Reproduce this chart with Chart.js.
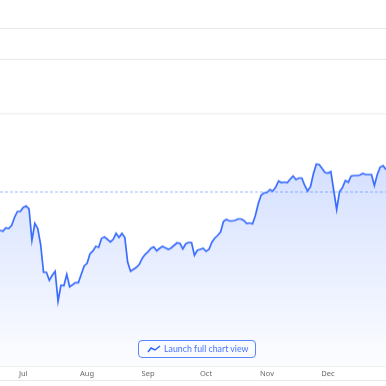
<!DOCTYPE html>
<html>
<head>
<meta charset="utf-8">
<script src="https://cdn.jsdelivr.net/npm/chart.js@4"></script>
<style>
  html, body { margin: 0; padding: 0; background: #fff; overflow: hidden; }
  #wrap { position: relative; width: 386px; height: 386px; }
  #chart_price { display: block; border-bottom: 1px solid #e9e9e9; }
  #launchButton {
    position: absolute; left: 138px; top: 340px; width: 116px; height: 16px;
    border: 1px solid #5b85ff; border-radius: 4px; background: #f9fbff;
    color: #4a74ff; font: 8.8px/16px Lato, sans-serif; white-space: nowrap;
  }
  #launchButton svg { position: absolute; left: 8px; top: 4px; }
  #launchButton span { position: absolute; left: 25px; top: 0; }
</style>
</head>
<body>
<div id="wrap">
  <canvas id="chart_price" width="386" height="381"></canvas>
  <div id="launchButton">
    <svg width="14" height="8" viewBox="0 0 14 8"><polyline points="1,7 4,3 8,5 13,1" fill="none" stroke="#2962ff" stroke-width="1.4"/></svg>
    <span>Launch full chart view</span>
  </div>
</div>
<script>
const priceValues = [
  136, 135.3, 138.5, 138, 141, 149, 155, 155, 159, 160.5, 157.5, 126, 143, 138, 122, 94,
  94, 86, 91, 95, 65, 81, 80.5, 92, 79.5, 81.5, 83.7, 83.7, 92, 100.3, 103, 112.5,
  115.3, 120, 119, 128, 129.5, 127, 124.3, 127, 133, 129, 133, 129, 104, 95,
  97, 99, 102, 108, 112, 114.5, 118, 119.5, 115.5, 118, 120, 118.5, 117, 118.5, 121, 123.5,
  123, 117.5, 122.5, 124, 123.7, 111, 116, 117, 118, 115, 117, 124, 128.3, 131, 134.5,
  145, 147, 145.5, 145.5, 146, 147.5, 147.5, 146, 143, 143.5, 142.5, 151, 163, 171.5, 173.5,
  174, 177, 175.5, 179.5, 185.5, 184, 184.5, 184, 187.5, 190.5, 187, 188.5, 188.5, 181, 175.5,
  180, 193, 202.5, 202, 198, 194, 193.5, 195, 176, 157, 175, 179, 186, 184.3, 190.5,
  191, 191, 191.5, 193, 192, 192, 192, 181, 192, 199.5, 201, 197
];
const monthLabels = ["Jul", "Aug", "Sep", "Oct", "Nov", "Dec"];
const monthStarts = [8, 30, 51, 71, 92, 113];
const gridValues = [339, 307, 253];
const baseValue = 174.5;

const categories = priceValues.map(function (v, i) {
  const m = monthStarts.indexOf(i);
  return m >= 0 ? monthLabels[m] : "";
});
const baseValues = priceValues.map(function () { return baseValue; });

new Chart(document.getElementById("chart_price"), {
  type: "line",
  data: {
    labels: categories,
    datasets: [
      {
        data: priceValues,
        borderColor: "#3a6dff",
        borderWidth: 1.7,
        pointRadius: 0,
        tension: 0,
        fill: "origin",
        backgroundColor: function (context) {
          const area = context.chart.chartArea;
          if (!area) return "rgba(41,98,255,0.2)";
          const g = context.chart.ctx.createLinearGradient(0, 160, 0, area.bottom);
          g.addColorStop(0, "rgba(41,98,255,0.2)");
          g.addColorStop(1, "rgba(41,98,255,0.01)");
          return g;
        },
      },
      {
        data: baseValues,
        borderColor: "rgba(41,98,255,0.45)",
        borderWidth: 1,
        borderDash: [3, 2],
        pointRadius: 0,
        fill: false,
      },
    ],
  },
  options: {
    responsive: false,
    animation: false,
    layout: { padding: 0 },
    plugins: {
      legend: false,
      tooltip: { enabled: false },
    },
    scales: {
      y: {
        min: 0,
        max: 367,
        border: { display: false },
        ticks: { display: false },
        afterBuildTicks: function (scale) {
          scale.ticks = gridValues.map(function (v) { return { value: v }; });
        },
        afterFit: function (scale) { scale.width = 0; },
        grid: {
          drawTicks: false,
          color: function (context) {
            return context.index === 2 ? "#f4f4f4" : "#e6e6e6";
          },
          lineWidth: function (context) {
            return context.index === 2 ? 2 : 1;
          },
        },
      },
      x: {
        border: { display: true, color: "#eeeeee" },
        grid: { display: false, drawTicks: false },
        afterFit: function (scale) {
          scale.height = 14;
          scale.paddingLeft = 0;
          scale.paddingRight = 0;
        },
        ticks: {
          autoSkip: false,
          maxRotation: 0,
          minRotation: 0,
          padding: 3,
          color: "#666666",
          font: { family: "Noto Sans", size: 7.5 },
        },
      },
    },
  },
});
</script>
</body>
</html>
